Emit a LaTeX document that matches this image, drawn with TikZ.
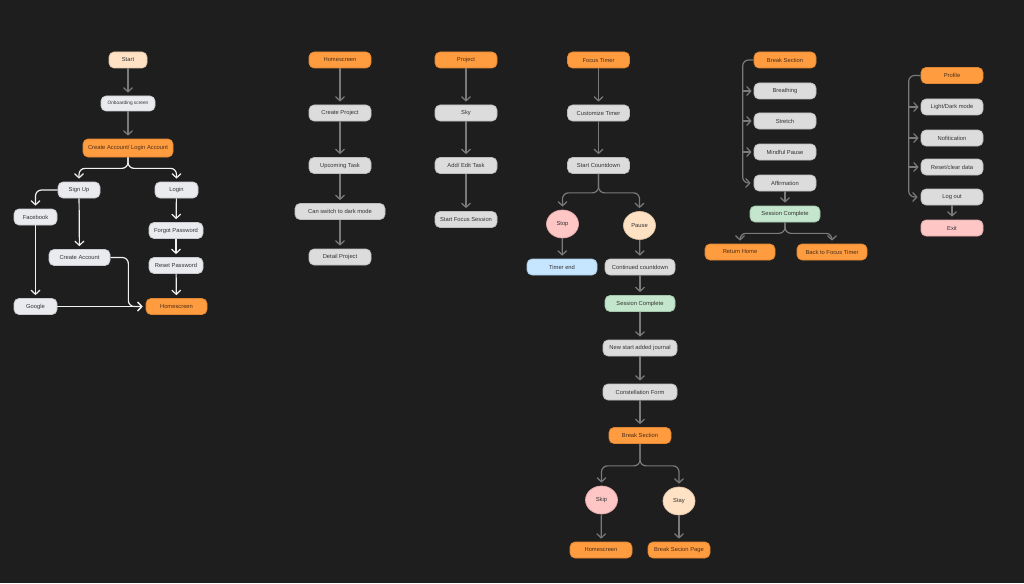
\documentclass[tikz,border=0pt]{standalone}
\usepackage{fontspec}
\setmainfont{Liberation Sans}
\usetikzlibrary{arrows.meta,shapes.geometric,calc}
\definecolor{bg}{HTML}{1E1E1E}
\definecolor{orng}{HTML}{FF9C40}
\definecolor{orngd}{HTML}{E08530}
\definecolor{peach}{HTML}{FFE2C4}
\definecolor{peachd}{HTML}{E0C4A6}
\definecolor{lgrey}{HTML}{DCDCDC}
\definecolor{lgreyd}{HTML}{BDBDBD}
\definecolor{wht}{HTML}{E9EBEF}
\definecolor{whtd}{HTML}{C8CACE}
\definecolor{pinkc}{HTML}{FFC6C6}
\definecolor{pinkd}{HTML}{E0A8A8}
\definecolor{bluec}{HTML}{C6E5FF}
\definecolor{blued}{HTML}{A6C6E0}
\definecolor{greenc}{HTML}{C4E6CC}
\definecolor{greend}{HTML}{A4C6AC}
\definecolor{txt}{HTML}{333333}
\definecolor{otxt}{HTML}{4A2E18}
\definecolor{arrg}{HTML}{7A7A7A}
\definecolor{arrw}{HTML}{F0F0F0}
\newcommand\boxfont{\fontsize{5.8}{6.8}\selectfont}
\newcommand\smallboxfont{\fontsize{4.8}{5.6}\selectfont}
\begin{document}
\begin{tikzpicture}[x=1pt,y=-1pt,
  box/.style={rounded corners=5pt, minimum height=16pt, inner sep=0pt, line width=0.7pt, font=\boxfont, text=txt},
  wd/.style={minimum width=#1},
  ob/.style={box, fill=orng, draw=orngd, text=otxt},
  gb/.style={box, fill=lgrey, draw=lgreyd},
  wb/.style={box, fill=wht, draw=whtd},
  pb/.style={box, fill=pinkc, draw=pinkd},
  peb/.style={box, fill=peach, draw=peachd},
  blb/.style={box, fill=bluec, draw=blued},
  grb/.style={box, fill=greenc, draw=greend},
  circ/.style={ellipse, minimum width=32pt, minimum height=28pt, inner sep=0pt, line width=0.7pt, font=\boxfont, text=txt},
  ga/.style={draw=arrg, line width=1.2pt, -{Straight Barb[length=4.2pt,width=9pt]}, shorten >=3pt, rounded corners=6pt},
  wa/.style={ga, draw=arrw},
]
\fill[bg] (0,0) rectangle (1024,583);
\useasboundingbox (0,0) rectangle (1024,583);

% ---------- Flow 1 ----------
\node[peb, wd=38pt] (start) at (128,60) {Start};
\node[wb, wd=54pt, minimum height=15pt, font=\smallboxfont] (onb) at (128,103.5) {Onboarding screen};
\node[ob, wd=90pt, minimum height=18pt] (cal) at (128,148) {Create Account/ Login Account};
\node[wb, wd=42pt] (signup) at (79,190) {Sign Up};
\node[wb, wd=43pt] (login) at (176.5,190) {Login};
\node[wb, wd=43pt] (fb) at (35.5,217) {Facebook};
\node[wb, wd=61pt] (ca) at (79.5,257.5) {Create Account};
\node[wb, wd=54pt] (forgot) at (176,230.5) {Forgot Password};
\node[wb, wd=54pt] (reset) at (176,265.5) {Reset Password};
\node[wb, wd=43pt] (google) at (35.5,306.5) {Google};
\node[ob, wd=61pt] (hs1) at (176.5,306.5) {Homescreen};

\draw[ga] (start) -- (onb);
\draw[ga] (onb) -- (cal);
\draw[wa] (cal.south) -- ++(0,11) -| (signup.north);
\draw[wa] (cal.south) -- ++(0,11) -| (login.north);
\draw[wa] (signup.west) -| (fb.north);
\draw[wa] (signup) -- (ca);
\draw[wa] (fb) -- (google);
\draw[wa] (ca.east) -- ++(18,0) |- (hs1.west);
\draw[wa] (google) -- (hs1);
\draw[wa] (login) -- (forgot);
\draw[wa] (forgot) -- (reset);
\draw[wa] (reset) -- (hs1);

% ---------- Flow 2 ----------
\node[ob, wd=62pt] (hs2) at (340,60) {Homescreen};
\node[gb, wd=62pt] (cp) at (340,113) {Create Project};
\node[gb, wd=62pt] (ut) at (340,165.5) {Upcoming Task};
\node[gb, wd=90pt] (dm) at (340,211.5) {Can switch to dark mode};
\node[gb, wd=62pt] (dp) at (340,257) {Detail Project};
\draw[ga] (hs2) -- (cp);
\draw[ga] (cp) -- (ut);
\draw[ga] (ut) -- (dm);
\draw[ga] (dm) -- (dp);

% ---------- Flow 3 ----------
\node[ob, wd=62pt] (pr) at (466,60) {Project};
\node[gb, wd=62pt] (sky) at (466,113) {Sky};
\node[gb, wd=62pt] (aet) at (466,165.5) {Add/ Edit Task};
\node[gb, wd=62pt] (sfs) at (466,219.5) {Start Focus Session};
\draw[ga] (pr) -- (sky);
\draw[ga] (sky) -- (aet);
\draw[ga] (aet) -- (sfs);

% ---------- Flow 4 ----------
\node[ob, wd=62pt] (ft) at (598.5,60) {Focus Timer};
\node[gb, wd=62pt] (ct) at (598.5,113) {Customize Timer};
\node[gb, wd=62pt] (scd) at (598.5,165.5) {Start Countdown};
\node[circ, fill=pinkc, draw=pinkd] (stop) at (562.5,224) {Stop};
\node[circ, fill=peach, draw=peachd] (pause) at (639.5,225.5) {Pause};
\node[blb, wd=70pt] (te) at (562,267) {Timer end};
\node[gb, wd=70pt] (cc) at (640,267) {Continued countdown};
\node[grb, wd=70pt] (sc4) at (640,303.5) {Session Complete};
\node[gb, wd=74pt] (nsj) at (640,348) {New start added journal};
\node[gb, wd=74pt] (cf) at (640,392) {Constellation Form};
\node[ob, wd=62pt] (bs4) at (640,435.5) {Break Section};
\node[circ, fill=pinkc, draw=pinkd] (skip) at (601.5,500) {Skip};
\node[circ, fill=peach, draw=peachd] (stay) at (679,501) {Stay};
\node[ob, wd=62pt] (hs4) at (601,550) {Homescreen};
\node[ob, wd=62pt] (bsp) at (679,550) {Break Secion Page};
\draw[ga] (ft) -- (ct);
\draw[ga] (ct) -- (scd);
\draw[ga] (scd.south) -- ++(0,19) -| (stop.north);
\draw[ga] (scd.south) -- ++(0,19) -| (pause.north);
\draw[ga] (stop) -- (te);
\draw[ga] (pause) -- (cc);
\draw[ga] (cc) -- (sc4);
\draw[ga] (sc4) -- (nsj);
\draw[ga] (nsj) -- (cf);
\draw[ga] (cf) -- (bs4);
\draw[ga] (bs4.south) -- ++(0,22) -| (skip.north);
\draw[ga] (bs4.south) -- ++(0,22) -| (stay.north);
\draw[ga] (skip) -- (hs4);
\draw[ga] (stay) -- (bsp);

% ---------- Flow 5 ----------
\node[ob, wd=62pt] (bs5) at (785,60) {Break Section};
\node[gb, wd=62pt] (br) at (785,91) {Breathing};
\node[gb, wd=62pt] (st) at (785,121) {Stretch};
\node[gb, wd=62pt] (mp) at (785,152) {Mindful Pause};
\node[gb, wd=62pt] (af) at (785,183) {Affirmation};
\node[grb, wd=70pt] (sc5) at (785,214) {Session Complete};
\node[ob, wd=70pt] (rh) at (740,252) {Return Home};
\node[ob, wd=70pt] (bft) at (832,252) {Back to Focus Timer};
\coordinate (v5) at ($(bs5.west)+(-11,0)$);
\draw[ga] (bs5.west) -- (v5) |- (af.west);
\draw[ga, shorten >=2pt] (v5 |- br.west) -- (br.west);
\draw[ga, shorten >=2pt] (v5 |- st.west) -- (st.west);
\draw[ga, shorten >=2pt] (v5 |- mp.west) -- (mp.west);
\draw[ga] (af) -- (sc5);
\draw[ga] (sc5.south) -- ++(0,11) -| (rh.north);
\draw[ga] (sc5.south) -- ++(0,11) -| (bft.north);

% ---------- Flow 6 ----------
\node[ob, wd=62pt] (pf) at (952,75.5) {Profile};
\node[gb, wd=62pt] (ldm) at (952,107) {Light/Dark mode};
\node[gb, wd=62pt] (nf) at (952,138) {Nofitication};
\node[gb, wd=62pt] (rcd) at (952,167) {Reset/clear data};
\node[gb, wd=62pt] (lo) at (952,197) {Log out};
\node[pb, wd=62pt] (ex) at (952,228) {Exit};
\coordinate (v6) at ($(pf.west)+(-12,0)$);
\draw[ga] (pf.west) -- (v6) |- (lo.west);
\draw[ga, shorten >=2pt] (v6 |- ldm.west) -- (ldm.west);
\draw[ga, shorten >=2pt] (v6 |- nf.west) -- (nf.west);
\draw[ga, shorten >=2pt] (v6 |- rcd.west) -- (rcd.west);
\draw[ga] (lo) -- (ex);
\end{tikzpicture}
\end{document}
